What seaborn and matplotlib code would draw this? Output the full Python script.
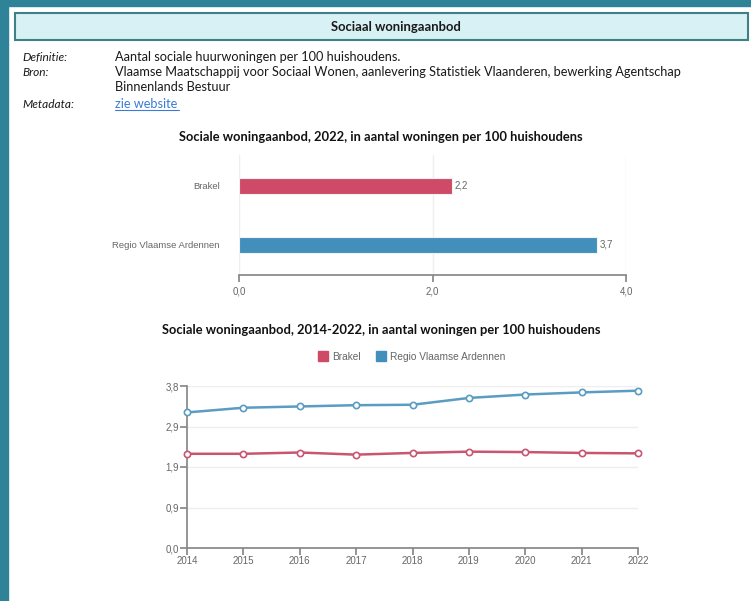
import pandas as pd
import matplotlib.pyplot as plt
import seaborn as sns
from matplotlib.patches import Rectangle
from matplotlib.lines import Line2D

# Data
gebieden = ['Brakel', 'Regio Vlaamse Ardennen']
waarde_2022 = [2.2, 3.7]
jaren = [2014, 2015, 2016, 2017, 2018, 2019, 2020, 2021, 2022]
brakel = [2.21, 2.21, 2.24, 2.19, 2.23, 2.26, 2.25, 2.23, 2.22]
regio = [3.18, 3.29, 3.32, 3.35, 3.36, 3.52, 3.60, 3.65, 3.69]
y_ticks = [0.0, 0.95, 1.9, 2.85, 3.8]
y_ticklabels = ['0,0', '0,9', '1,9', '2,9', '3,8']
x_ticks_bar = [0, 2, 4]
x_ticklabels_bar = ['0,0', '2,0', '4,0']

kleuren = {'Brakel': '#cf4a66', 'Regio Vlaamse Ardennen': '#428fbb'}
lijnkleuren = {'Brakel': '#c95670', 'Regio Vlaamse Ardennen': '#5a9cc2'}

sns.set_theme(style='white')
plt.rcParams['font.family'] = ['Liberation Sans', 'DejaVu Sans']

W, H = 751, 601
fig = plt.figure(figsize=(W / 100, H / 100), dpi=100)


def box(x0, y0, x1, y1):
    # pixel box (top-left origin) -> figure rect
    return [x0 / W, 1 - y1 / H, (x1 - x0) / W, (y1 - y0) / H]


# page frame
fig.patches.append(Rectangle((0, 1 - 6 / H), 1, 6 / H, transform=fig.transFigure,
                             color='#2f8399', zorder=0))
fig.patches.append(Rectangle((0, 0), 8 / W, 1, transform=fig.transFigure,
                             color='#2f8399', zorder=0))
fig.patches.append(Rectangle((15 / W, 1 - 40 / H), 733 / W, 27 / H, transform=fig.transFigure,
                             facecolor='#d8f1f4', edgecolor='#3f7f86', lw=1.5, zorder=1))

tfont = ['Lato', 'DejaVu Sans']
tekst = '#1a1a1a'
fig.text(396 / W, 1 - 27 / H, 'Sociaal woningaanbod', ha='center', va='center',
         fontsize=9.4, fontweight='bold', family=tfont, color=tekst)

rows = [('Definitie:', 'Aantal sociale huurwoningen per 100 huishoudens.', 57),
        ('Bron:', 'Vlaamse Maatschappij voor Sociaal Wonen, aanlevering Statistiek Vlaanderen, bewerking Agentschap', 72),
        ('', 'Binnenlands Bestuur', 87)]
for lab, txt, y in rows:
    fig.text(22 / W, 1 - y / H, lab, ha='left', va='center', fontsize=8.6,
             style='italic', family=tfont, color=tekst)
    fig.text(115 / W, 1 - y / H, txt, ha='left', va='center', fontsize=9.2,
             family=tfont, color=tekst)
fig.text(22 / W, 1 - 104 / H, 'Metadata:', ha='left', va='center', fontsize=8.6,
         style='italic', family=tfont, color=tekst)
fig.text(115 / W, 1 - 104 / H, 'zie website', ha='left', va='center', fontsize=9.2,
         family=tfont, color='#3a7bd5')
fig.add_artist(Line2D([115 / W, 179 / W], [1 - 110 / H, 1 - 110 / H], color='#3a7bd5', lw=0.8))

grijs = '#888888'
labelgrijs = '#666666'

# bar chart
ax1 = fig.add_axes(box(239, 155, 626, 275))
df_bar = pd.DataFrame({'gebied': gebieden, 'waarde': waarde_2022})
sns.barplot(data=df_bar, x='waarde', y='gebied', hue='gebied', palette=kleuren,
            orient='h', width=0.27, saturation=1, edgecolor='#f2f2f2', linewidth=0.8,
            legend=False, ax=ax1)
for i, v in enumerate(waarde_2022):
    ax1.text(v + 0.03, i, f'{v:.1f}'.replace('.', ','), va='center', ha='left',
             fontsize=7, color=labelgrijs)
ax1.set_xlim(0, 4)
ax1.set_ylim(1.51, -0.525)
ax1.set_xticks(x_ticks_bar)
ax1.set_xticklabels(x_ticklabels_bar)
ax1.set_xlabel('')
ax1.set_ylabel('')
ax1.grid(axis='x', color='#eeeeee', lw=1)
for s in ['top', 'left', 'right']:
    ax1.spines[s].set_visible(False)
ax1.spines['bottom'].set_color(grijs)
ax1.tick_params(axis='x', bottom=True, length=5, color=grijs, labelsize=7,
                labelcolor=labelgrijs, pad=3)
ax1.tick_params(axis='y', left=False, labelsize=6.8, labelcolor=labelgrijs, pad=8)
fig.text(381 / W, 1 - 137 / H, 'Sociale woningaanbod, 2022, in aantal woningen per 100 huishoudens',
         ha='center', va='center', fontsize=9.3, fontweight='bold', family=tfont, color='#111111')

# line chart
ax2 = fig.add_axes(box(187, 386, 638, 548))
reeksen = {'Brakel': brakel, 'Regio Vlaamse Ardennen': regio}
for g in gebieden:
    df_lijn = pd.DataFrame({'jaar': jaren, 'waarde': reeksen[g]})
    sns.lineplot(data=df_lijn, x='jaar', y='waarde', color=lijnkleuren[g],
                 marker='o', markersize=4.5, markerfacecolor='white',
                 markeredgecolor=lijnkleuren[g], markeredgewidth=1.2,
                 linewidth=1.8, ax=ax2, clip_on=False, zorder=3)
ax2.set_xlim(2014, 2022)
ax2.set_ylim(0, 3.8)
ax2.set_xticks(jaren)
ax2.set_xticklabels([str(j) for j in jaren])
ax2.set_yticks(y_ticks)
ax2.set_yticklabels(y_ticklabels)
ax2.set_xlabel('')
ax2.set_ylabel('')
ax2.grid(axis='y', color='#eeeeee', lw=1)
for s in ['top', 'right']:
    ax2.spines[s].set_visible(False)
for s in ['left', 'bottom']:
    ax2.spines[s].set_color(grijs)
ax2.tick_params(axis='x', bottom=True, length=5, color=grijs, labelsize=7,
                labelcolor=labelgrijs, pad=1)
ax2.tick_params(axis='y', left=True, length=5, color=grijs, labelsize=7,
                labelcolor=labelgrijs, pad=1)
fig.text(381 / W, 1 - 330 / H, 'Sociale woningaanbod, 2014-2022, in aantal woningen per 100 huishoudens',
         ha='center', va='center', fontsize=9.3, fontweight='bold', family=tfont, color='#111111')

# legend
handles = [Line2D([], [], marker='s', linestyle='none', markersize=7,
                  markerfacecolor=kleuren[g], markeredgecolor=kleuren[g]) for g in gebieden]
fig.legend(handles, gebieden, loc='center', bbox_to_anchor=(412 / W, 1 - 357 / H), ncol=2,
           frameon=False, fontsize=7.3, labelcolor=labelgrijs, handletextpad=0.4,
           columnspacing=1.5, handlelength=1.0)

fig.savefig('out.png', dpi=100)
